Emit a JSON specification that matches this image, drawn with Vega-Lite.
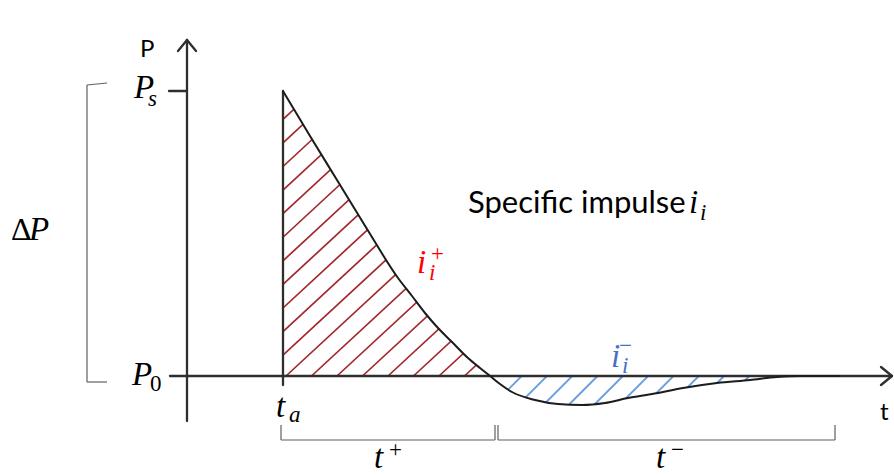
{
  "$schema": "https://vega.github.io/schema/vega-lite/v6.json",
  "width": 894,
  "height": 475,
  "padding": 0,
  "autosize": {"type": "fit", "contains": "padding"},
  "background": "white",
  "config": {"view": {"stroke": null}},
  "datasets": {
    "curve": [
      {"t": 0, "P": 114}, {"t": 1.35, "P": 96}, {"t": 2.7, "P": 78.4}, {"t": 4.2, "P": 58.8},
      {"t": 5.75, "P": 39.2}, {"t": 6.45, "P": 32}, {"t": 7.1, "P": 25.2}, {"t": 7.75, "P": 19.2},
      {"t": 8.45, "P": 13.6}, {"t": 9.25, "P": 7.2}, {"t": 9.85, "P": 3.2}, {"t": 10.35, "P": 0},
      {"t": 10.85, "P": -3.2}, {"t": 11.45, "P": -6.4}, {"t": 12.6, "P": -9.6}, {"t": 13.75, "P": -11.2},
      {"t": 14.95, "P": -11.6}, {"t": 16.1, "P": -10.8}, {"t": 17.25, "P": -8.8}, {"t": 18.45, "P": -7.2},
      {"t": 20.0, "P": -4.8}, {"t": 21.7, "P": -2.8}, {"t": 23.35, "P": -1.6}, {"t": 24.7, "P": -0.4},
      {"t": 25.85, "P": 0}, {"t": 27.85, "P": 0}
    ],
    "hatchPos": [
      {"t": 0, "P": 102.68, "t2": 1.53, "P2": 114},
      {"t": 0, "P": 93.24, "t2": 2.805, "P2": 114},
      {"t": 0, "P": 83.8, "t2": 4.08, "P2": 114},
      {"t": 0, "P": 74.36, "t2": 5.355, "P2": 114},
      {"t": 0, "P": 64.92, "t2": 6.63, "P2": 114},
      {"t": 0, "P": 55.5, "t2": 7.905, "P2": 114},
      {"t": 0, "P": 46.08, "t2": 9.18, "P2": 114},
      {"t": 0, "P": 36.64, "t2": 10.2, "P2": 112.11},
      {"t": 0, "P": 27.2, "t2": 10.2, "P2": 102.69},
      {"t": 0, "P": 17.76, "t2": 10.2, "P2": 93.25},
      {"t": 0, "P": 8.32, "t2": 10.2, "P2": 83.81},
      {"t": 0.15, "P": 0, "t2": 10.2, "P2": 74.37},
      {"t": 1.425, "P": 0, "t2": 10.2, "P2": 64.93},
      {"t": 2.7, "P": 0, "t2": 10.2, "P2": 55.49},
      {"t": 3.975, "P": 0, "t2": 10.2, "P2": 46.05},
      {"t": 5.25, "P": 0, "t2": 10.2, "P2": 36.63},
      {"t": 6.525, "P": 0, "t2": 10.2, "P2": 27.21},
      {"t": 7.8, "P": 0, "t2": 10.2, "P2": 17.77},
      {"t": 9.075, "P": 0, "t2": 10.2, "P2": 8.33}
    ],
    "hatchNeg": [
      {"t": 11.935, "P": 0, "t2": 10.435, "P2": -12},
      {"t": 13.2, "P": 0, "t2": 11.7, "P2": -12},
      {"t": 14.465, "P": 0, "t2": 12.965, "P2": -12},
      {"t": 15.73, "P": 0, "t2": 14.23, "P2": -12},
      {"t": 16.995, "P": 0, "t2": 15.495, "P2": -12},
      {"t": 18.26, "P": 0, "t2": 16.76, "P2": -12},
      {"t": 19.525, "P": 0, "t2": 18.025, "P2": -12},
      {"t": 20.79, "P": 0, "t2": 19.29, "P2": -12},
      {"t": 22.055, "P": 0, "t2": 20.555, "P2": -12},
      {"t": 23.32, "P": 0, "t2": 21.82, "P2": -12}
    ],
    "strokes": [
      {"kind": "axis", "t": -4.8, "P": -18, "t2": -4.8, "P2": 134.4},
      {"kind": "axis", "t": -5.25, "P": 130, "t2": -4.8, "P2": 134.4},
      {"kind": "axis", "t": -4.35, "P": 130, "t2": -4.8, "P2": 134.4},
      {"kind": "axis", "t": -5.65, "P": 0, "t2": 30.45, "P2": 0},
      {"kind": "axis", "t": 29.9, "P": 3.6, "t2": 30.45, "P2": 0},
      {"kind": "axis", "t": 29.9, "P": -3.6, "t2": 30.45, "P2": 0},
      {"kind": "axis", "t": -5.7, "P": 114, "t2": -4.8, "P2": 114},
      {"kind": "axis", "t": 0, "P": 114, "t2": 0, "P2": -3.6},
      {"kind": "bracket", "t": -9.8, "P": 116.4, "t2": -9.8, "P2": -2.4},
      {"kind": "bracket", "t": -9.8, "P": 116.4, "t2": -8.8, "P2": 117.2},
      {"kind": "bracket", "t": -9.8, "P": -2.4, "t2": -8.8, "P2": -2.4},
      {"kind": "bracket", "t": -0.1, "P": -19.6, "t2": -0.1, "P2": -25.6},
      {"kind": "bracket", "t": -0.1, "P": -25.6, "t2": 10.6, "P2": -25.6},
      {"kind": "bracket", "t": 10.6, "P": -25.6, "t2": 10.6, "P2": -19.6},
      {"kind": "bracket", "t": 10.75, "P": -19.6, "t2": 10.75, "P2": -25.6},
      {"kind": "bracket", "t": 10.75, "P": -25.6, "t2": 27.6, "P2": -25.6},
      {"kind": "bracket", "t": 27.6, "P": -25.6, "t2": 27.6, "P2": -19.6}
    ],
    "labels": [
      {"role": "sans", "group": "plain", "t": -7.15, "P": 127.6, "text": "P"},
      {"role": "sans", "group": "plain", "t": 29.85, "P": -17.6, "text": "t"},
      {"role": "title", "group": "plain", "t": 9.25, "P": 65.2, "text": "Specific impulse"},
      {"role": "var", "group": "plain", "t": -7.45, "P": 111.2, "text": "P"},
      {"role": "var", "group": "plain", "t": -7.55, "P": -3.6, "text": "P"},
      {"role": "var", "group": "plain", "t": -0.35, "P": -16.4, "text": "t"},
      {"role": "var", "group": "plain", "t": -12.7, "P": 54.4, "text": "P"},
      {"role": "var", "group": "plain", "t": 20.3, "P": 65.2, "text": "i"},
      {"role": "var", "group": "plus", "t": 6.7, "P": 41.2, "text": "i"},
      {"role": "var", "group": "minus", "t": 16.4, "P": 3.6, "text": "i"},
      {"role": "var", "group": "plain", "t": 4.55, "P": -36.8, "text": "t"},
      {"role": "var", "group": "plain", "t": 18.65, "P": -36.8, "text": "t"},
      {"role": "upright", "group": "plain", "t": -13.6, "P": 54.4, "text": "Δ"},
      {"role": "sub", "group": "plain", "t": -6.75, "P": 108, "text": "s"},
      {"role": "sub", "group": "plain", "t": 0.3, "P": -18.4, "text": "a"},
      {"role": "sub", "group": "plain", "t": 20.85, "P": 62.4, "text": "i"},
      {"role": "sub", "group": "plus", "t": 7.3, "P": 38.4, "text": "i"},
      {"role": "sub", "group": "minus", "t": 16.95, "P": 1.2, "text": "i"},
      {"role": "subUpright", "group": "plain", "t": -6.65, "P": -6, "text": "0"},
      {"role": "subUpright", "group": "plus", "t": 7.4, "P": 45.9, "text": "+"},
      {"role": "subUpright", "group": "minus", "t": 16.8, "P": 9.1, "text": "−"},
      {"role": "subUpright", "group": "plain", "t": 5.3, "P": -32.5, "text": "+"},
      {"role": "subUpright", "group": "plain", "t": 19.4, "P": -32.5, "text": "−"}
    ]
  },
  "encoding": {
    "x": {"field": "t", "type": "quantitative", "axis": null, "scale": {"domain": [-14.15, 30.55], "nice": false, "zero": false}},
    "y": {"field": "P", "type": "quantitative", "axis": null, "scale": {"domain": [-39.6, 150.4], "nice": false, "zero": false}}
  },
  "layer": [
    {
      "data": {"name": "hatchPos"},
      "mark": {"type": "rule", "stroke": "#a3272d", "strokeWidth": 1.7},
      "encoding": {"x2": {"field": "t2"}, "y2": {"field": "P2"}}
    },
    {
      "data": {"name": "hatchNeg"},
      "mark": {"type": "rule", "stroke": "#6c9fdf", "strokeWidth": 1.8},
      "encoding": {"x2": {"field": "t2"}, "y2": {"field": "P2"}}
    },
    {
      "data": {"name": "curve"},
      "transform": [{"filter": "datum.t <= 10.35"}],
      "mark": {"type": "area", "fill": "white", "interpolate": "monotone"},
      "encoding": {"y2": {"datum": 116}}
    },
    {
      "data": {"name": "curve"},
      "transform": [{"filter": "datum.t >= 10.35"}],
      "mark": {"type": "area", "fill": "white", "interpolate": "monotone"},
      "encoding": {"y2": {"datum": -13.5}}
    },
    {
      "data": {"name": "strokes"},
      "transform": [{"filter": "datum.kind === 'bracket'"}],
      "mark": {"type": "rule", "stroke": "#5f5f5f", "strokeWidth": 1.2},
      "encoding": {"x2": {"field": "t2"}, "y2": {"field": "P2"}}
    },
    {
      "data": {"name": "strokes"},
      "transform": [{"filter": "datum.kind === 'axis'"}],
      "mark": {"type": "rule", "stroke": "#2e2e2e", "strokeWidth": 2.3, "strokeCap": "round"},
      "encoding": {"x2": {"field": "t2"}, "y2": {"field": "P2"}}
    },
    {
      "data": {"name": "curve"},
      "mark": {"type": "line", "stroke": "#1c1c1c", "strokeWidth": 2, "interpolate": "monotone"},
      "encoding": {}
    },
    {
      "data": {"name": "labels"},
      "transform": [{"filter": "datum.role === 'sans'"}],
      "mark": {"type": "text", "font": "Lato", "fontSize": 24, "align": "left", "baseline": "alphabetic", "fill": "#000"},
      "encoding": {"text": {"field": "text"}}
    },
    {
      "data": {"name": "labels"},
      "transform": [{"filter": "datum.role === 'title'"}],
      "mark": {"type": "text", "font": "Lato", "fontSize": 31, "align": "left", "baseline": "alphabetic", "fill": "#000"},
      "encoding": {"text": {"field": "text"}}
    },
    {
      "data": {"name": "labels"},
      "transform": [{"filter": "datum.role === 'var'"}],
      "mark": {"type": "text", "font": "Liberation Serif", "fontStyle": "italic", "fontSize": 33, "align": "left", "baseline": "alphabetic"},
      "encoding": {
        "text": {"field": "text"},
        "color": {"field": "group", "type": "nominal", "legend": null, "scale": {"domain": ["plain", "plus", "minus"], "range": ["#000000", "#ff0000", "#4472c4"]}}
      }
    },
    {
      "data": {"name": "labels"},
      "transform": [{"filter": "datum.role === 'upright'"}],
      "mark": {"type": "text", "font": "Liberation Serif", "fontSize": 32, "align": "left", "baseline": "alphabetic", "fill": "#000"},
      "encoding": {"text": {"field": "text"}}
    },
    {
      "data": {"name": "labels"},
      "transform": [{"filter": "datum.role === 'sub'"}],
      "mark": {"type": "text", "font": "Liberation Serif", "fontStyle": "italic", "fontSize": 23, "align": "left", "baseline": "alphabetic"},
      "encoding": {
        "text": {"field": "text"},
        "color": {"field": "group", "type": "nominal", "legend": null, "scale": {"domain": ["plain", "plus", "minus"], "range": ["#000000", "#ff0000", "#4472c4"]}}
      }
    },
    {
      "data": {"name": "labels"},
      "transform": [{"filter": "datum.role === 'subUpright'"}],
      "mark": {"type": "text", "font": "Liberation Serif", "fontSize": 23, "align": "left", "baseline": "alphabetic"},
      "encoding": {
        "text": {"field": "text"},
        "color": {"field": "group", "type": "nominal", "legend": null, "scale": {"domain": ["plain", "plus", "minus"], "range": ["#000000", "#ff0000", "#4472c4"]}}
      }
    }
  ]
}
